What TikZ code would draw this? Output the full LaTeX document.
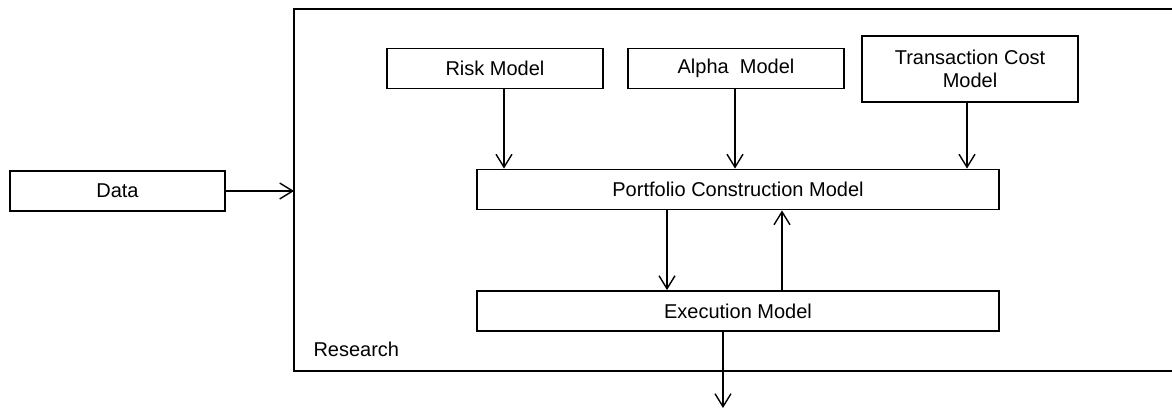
\documentclass[tikz,border=0pt]{standalone}
\usepackage{fontspec}
\setmainfont{Liberation Sans}
\usetikzlibrary{arrows.meta}
\begin{document}
\begin{tikzpicture}[x=1pt, y=-1pt,
	model/.style={draw, line width=1.9pt, minimum width=216pt, minimum height=40pt, inner sep=0pt, align=center},
	widemodel/.style={model, minimum width=522pt},
	flow/.style={line width=1.4pt, -{Straight Barb[length=13pt, width=16pt]}},
	font=\fontsize{20}{23}\selectfont]
		\clip (0, 0) rectangle (1172, 409);
		%research box
		\draw[line width=2pt] (294, 9) rectangle (1190, 371);
		\node[anchor=base west] (research) at (310, 356) {Research};
		\coordinate (entry) at (294, 191);
		\coordinate (out) at (723, 408);
		%models
		\node[model, minimum width=215pt] (data) at (117.5, 191) {Data};
		\node[model] (risk) at (495, 68.5) {Risk Model};
		\node[model] (alpha) at (736, 68.5) {Alpha\ \ Model};
		\node[model, minimum height=66pt] (cost) at (970, 69) {Transaction Cost\\Model};
		\node[widemodel] (pcm) at (738, 189.5) {Portfolio Construction Model};
		\node[widemodel] (exec) at (738, 311) {Execution Model};
		%arrows
		\draw[flow] (data) -- (entry);
		\draw[flow] ([xshift=9pt]risk.south) -- ([xshift=9pt]risk.south |- pcm.north);
		\draw[flow] ([xshift=-1pt]alpha.south) -- ([xshift=-1pt]alpha.south |- pcm.north);
		\draw[flow] ([xshift=-3pt]cost.south) -- ([xshift=-3pt]cost.south |- pcm.north);
		\draw[flow] ([xshift=-71pt]pcm.south) -- ([xshift=-71pt]pcm.south |- exec.north);
		\draw[flow] ([xshift=44pt]exec.north) -- ([xshift=44pt]exec.north |- pcm.south);
		\draw[flow] ([xshift=-15pt]exec.south) -- (out);
\end{tikzpicture}
\end{document}
